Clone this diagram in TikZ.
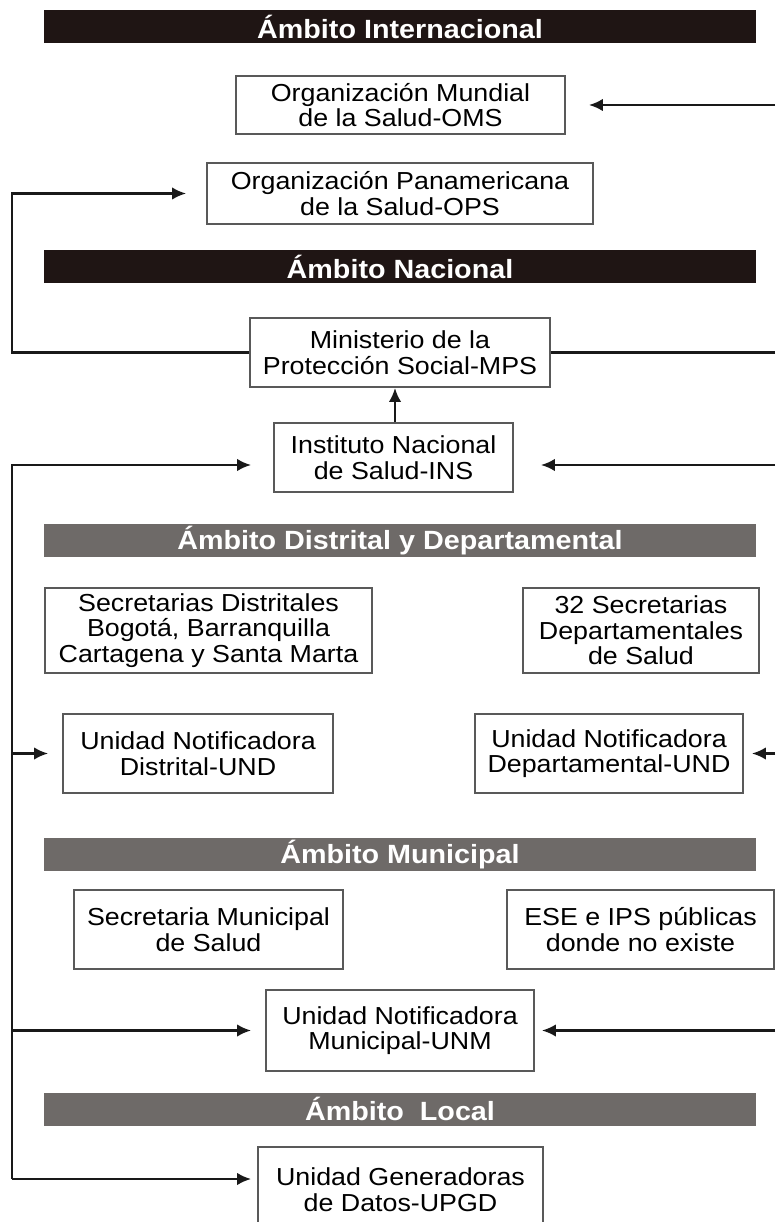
\documentclass[tikz,border=0pt]{standalone}
\usepackage{fontspec}
\setmainfont{Liberation Sans}[FakeStretch=1.09]
\usepackage{tikz}
\usetikzlibrary{arrows.meta,positioning,calc}
\definecolor{noir}{HTML}{1F1514}
\definecolor{gris}{HTML}{6E6A68}
\tikzstyle{boite}=[draw=black!65, line width=1pt, fill=white, align=center, inner sep=2pt, font=\fontsize{14}{14.6}\selectfont]
\tikzstyle{bande}=[fill=noir, text=white, minimum width=14.24cm, minimum height=0.66cm, inner sep=0pt, font=\fontsize{15}{16}\selectfont\bfseries]
\tikzstyle{ligne}=[-, line width=1.5pt, black!90]
\tikzstyle{fleche}=[-{Latex[length=2.8mm,width=2.5mm]}, line width=1.5pt, black!90]

\begin{document}
\begin{tikzpicture}[x=0.02cm,y=-0.02cm]
\useasboundingbox (0,0) rectangle (775,1222);

% bandes
\node[bande] (bint) at (400,27) {Ámbito Internacional};
\node[bande] (bnac) at (400,266.5) {Ámbito Nacional};
\node[bande, fill=gris] (bdis) at (400,540.5) {Ámbito Distrital y Departamental};
\node[bande, fill=gris] (bmun) at (400,854.5) {Ámbito Municipal};
\node[bande, fill=gris] (bloc) at (400,1109) {Ámbito\ \ Local};

% internacional
\node[boite, minimum width=6.58cm, minimum height=1.16cm] (oms) at (400.5,105) {Organización Mundial\\de la Salud-OMS};
\node[boite, minimum width=7.72cm, minimum height=1.22cm] (ops) at (400,193.5) {Organización Panamericana\\de la Salud-OPS};

% nacional
\node[boite, minimum width=6cm, minimum height=1.38cm] (mps) at (400,352.5) {Ministerio de la\\Protección Social-MPS};
\node[boite, minimum width=4.78cm, minimum height=1.38cm] (ins) at (393.5,457.5) {Instituto Nacional\\de Salud-INS};

% distrital y departamental
\node[boite, minimum width=6.54cm, minimum height=1.7cm] (secdis) at (208.5,630.5) {Secretarias Distritales\\Bogotá, Barranquilla\\Cartagena y Santa Marta};
\node[boite, minimum width=4.72cm, minimum height=1.7cm] (secdep) at (641,630.5) {32 Secretarias\\Departamentales\\de Salud};
\node[boite, minimum width=5.4cm, minimum height=1.58cm] (undd) at (198,753.5) {Unidad Notificadora\\Distrital-UND};
\node[boite, minimum width=5.36cm, minimum height=1.58cm] (undp) at (609,753.5) {Unidad Notificadora\\Departamental-UND};

% municipal
\node[boite, minimum width=5.38cm, minimum height=1.58cm] (secmun) at (208.5,929.5) {Secretaria Municipal\\de Salud};
\node[boite, minimum width=5.34cm, minimum height=1.58cm] (ese) at (640.5,929.5) {ESE e IPS públicas\\donde no existe};
\node[boite, minimum width=5.36cm, minimum height=1.62cm] (unm) at (400,1030.5) {Unidad Notificadora\\Municipal-UNM};

% local
\node[boite, minimum width=5.7cm, minimum height=1.7cm] (upgd) at (400.5,1189.5) {Unidad Generadoras\\de Datos-UPGD};

% connecteurs gauche
\coordinate (lop) at (12,193.5);
\coordinate (lt) at (12,465);
\coordinate (lb) at (12,1179);
\draw[fleche, shorten >=0.4cm] (mps.west) -| (lop) -- (ops.west);
\draw[fleche, shorten >=0.44cm] (lb) -- (lt) -- (lt -| ins.west);
\draw[fleche, shorten >=0.28cm] (undd.west -| lt) -- (undd.west);
\draw[fleche, shorten >=0.28cm] (unm.west -| lt) -- (unm.west);
\draw[fleche, shorten >=0.12cm] (lb) -- (lb -| upgd.west);

% connecteurs droite
\coordinate (r) at (775,0);
\draw[fleche, shorten >=0.46cm] (oms.east -| r) -- (oms.east);
\draw[ligne] (mps.east) -- (mps.east -| r);
\draw[fleche, shorten >=0.54cm] (lt -| r) -- (lt -| ins.east);
\draw[fleche, shorten >=0.16cm] (undp.east -| r) -- (undp.east);
\draw[fleche, shorten >=0.14cm] (unm.east -| r) -- (unm.east);
\draw[fleche] (ins.north -| 395,0) -- (mps.south -| 395,0);

\end{tikzpicture}
\end{document}
